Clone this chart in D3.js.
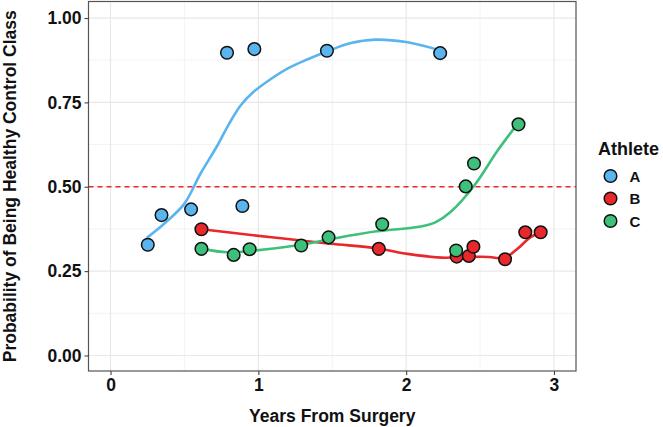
<!DOCTYPE html>
<html><head><meta charset="utf-8">
<script src="https://cdn.jsdelivr.net/npm/d3@7"></script>
<style>body{margin:0;background:#fff;} text{font-family:"Liberation Sans",Arial,sans-serif;font-weight:bold;}</style>
</head><body>
<svg id="c" width="663" height="427"></svg>
<script>
const athletes = ["A","B","C"];
const colors = ["#5AB4EE","#E8282B","#3DC07A"];
const xTicks = [0,1,2,3];
const yTicks = [0,0.25,0.5,0.75,1];
const yTickLabels = ["0.00","0.25","0.50","0.75","1.00"];
const threshold = 0.5;

const pointsA = [[0.252,0.328],[0.345,0.416],[0.545,0.433],[0.788,0.897],[0.892,0.443],[0.973,0.908],[1.464,0.903],[2.23,0.896]];
const pointsB = [[0.615,0.374],[1.815,0.316],[2.342,0.293],[2.424,0.295],[2.455,0.322],[2.669,0.285],[2.806,0.365],[2.91,0.365]];
const pointsC = [[0.615,0.316],[0.833,0.298],[0.941,0.315],[1.29,0.326],[1.475,0.35],[1.838,0.389],[2.338,0.311],[2.403,0.501],[2.459,0.569],[2.76,0.685]];

const smoothA = [[0.25,0.35],[0.38,0.397],[0.5,0.45],[0.61,0.54],[0.72,0.62],[0.8,0.685],[0.88,0.741],[0.97,0.782],[1.08,0.818],[1.2,0.851],[1.33,0.877],[1.46,0.9],[1.62,0.925],[1.79,0.936],[2.01,0.928],[2.23,0.904]];
const smoothB = [[0.615,0.374],[0.95,0.357],[1.2,0.345],[1.49,0.331],[1.8,0.318],[2.01,0.301],[2.24,0.29],[2.42,0.292],[2.56,0.292],[2.66,0.288],[2.75,0.315],[2.84,0.35],[2.91,0.365]];
const smoothC = [[0.615,0.316],[0.79,0.306],[0.95,0.31],[1.29,0.328],[1.49,0.345],[1.8,0.368],[2.1,0.382],[2.2,0.395],[2.3,0.425],[2.46,0.503],[2.62,0.608],[2.76,0.69]];

const pointSets = [pointsA, pointsB, pointsC];
const smoothSets = [smoothA, smoothB, smoothC];

const svg = d3.select("#c");
const L = 88.5, R = 576, T = 1.5, B = 371;
const x = d3.scaleLinear().domain([-0.149, 3.149]).range([L, R]);
const y = d3.scaleLinear().domain([-0.046, 1.049]).range([B, T]);

// grid
const g = svg.append("g");
const minorX = [0.5,1.5,2.5], minorY = [0.125,0.375,0.625,0.875];
g.selectAll(".mx").data(minorX).join("line").attr("x1",d=>x(d)).attr("x2",d=>x(d)).attr("y1",T).attr("y2",B).attr("stroke","#f0f0f0").attr("stroke-width",0.8);
g.selectAll(".my").data(minorY).join("line").attr("y1",d=>y(d)).attr("y2",d=>y(d)).attr("x1",L).attr("x2",R).attr("stroke","#f0f0f0").attr("stroke-width",0.8);
g.selectAll(".gx").data(xTicks).join("line").attr("x1",d=>x(d)).attr("x2",d=>x(d)).attr("y1",T).attr("y2",B).attr("stroke","#e8e8e8").attr("stroke-width",1.2);
g.selectAll(".gy").data(yTicks).join("line").attr("y1",d=>y(d)).attr("y2",d=>y(d)).attr("x1",L).attr("x2",R).attr("stroke","#e8e8e8").attr("stroke-width",1.2);

// threshold
svg.append("line").attr("x1",L).attr("x2",R).attr("y1",y(threshold)).attr("y2",y(threshold))
  .attr("stroke","#E8282B").attr("stroke-width",1.3).attr("stroke-dasharray","5,4");

// smooth lines
const line = d3.line().x(d=>x(d[0])).y(d=>y(d[1])).curve(d3.curveCatmullRom.alpha(0.5));
smoothSets.forEach((s,i)=>{
  svg.append("path").attr("d",line(s)).attr("fill","none").attr("stroke",colors[i]).attr("stroke-width",2.6).attr("stroke-linecap","round");
});

// points
pointSets.forEach((s,i)=>{
  svg.append("g").selectAll("circle").data(s).join("circle")
    .attr("cx",d=>x(d[0])).attr("cy",d=>y(d[1])).attr("r",6.3)
    .attr("fill",colors[i]).attr("stroke","#111").attr("stroke-width",1.5);
});

// panel border
svg.append("rect").attr("x",L).attr("y",T).attr("width",R-L).attr("height",B-T).attr("fill","none").attr("stroke","#555").attr("stroke-width",1.2);

// axes
const xa = svg.append("g").attr("transform",`translate(0,${B})`)
  .call(d3.axisBottom(x).tickValues(xTicks).tickFormat(d3.format("d")).tickSize(4).tickPadding(4));
const ya = svg.append("g").attr("transform",`translate(${L},0)`)
  .call(d3.axisLeft(y).tickValues(yTicks).tickFormat((d,i)=>yTickLabels[i]).tickSize(4).tickPadding(3));
[xa,ya].forEach(a=>{
  a.select(".domain").remove();
  a.selectAll(".tick line").attr("stroke","#444").attr("stroke-width",1.1);
  a.selectAll(".tick text").attr("fill","#111").style("font-size","17.5px").style("font-family","'Liberation Sans',Arial,sans-serif").style("font-weight","bold");
});

// axis titles
svg.append("text").attr("x",(L+R)/2).attr("y",422).attr("text-anchor","middle").style("font-size","17.5px").attr("fill","#111").text("Years From Surgery");
svg.append("text").attr("transform",`translate(15.5,${(T+B)/2}) rotate(-90)`).attr("text-anchor","middle").style("font-size","17.5px").attr("fill","#111").text("Probability of Being Healthy Control Class");

// legend
svg.append("text").attr("x",598).attr("y",154.5).style("font-size","18px").attr("fill","#111").text("Athlete");
const lg = svg.append("g").selectAll("g").data(athletes).join("g").attr("transform",(d,i)=>`translate(610.5,${176+i*22.5})`);
lg.append("circle").attr("r",6.3).attr("fill",(d,i)=>colors[i]).attr("stroke","#111").attr("stroke-width",1.5);
lg.append("text").attr("x",19).attr("y",5.5).style("font-size","15px").attr("fill","#111").text(d=>d);
</script>
</body></html>
